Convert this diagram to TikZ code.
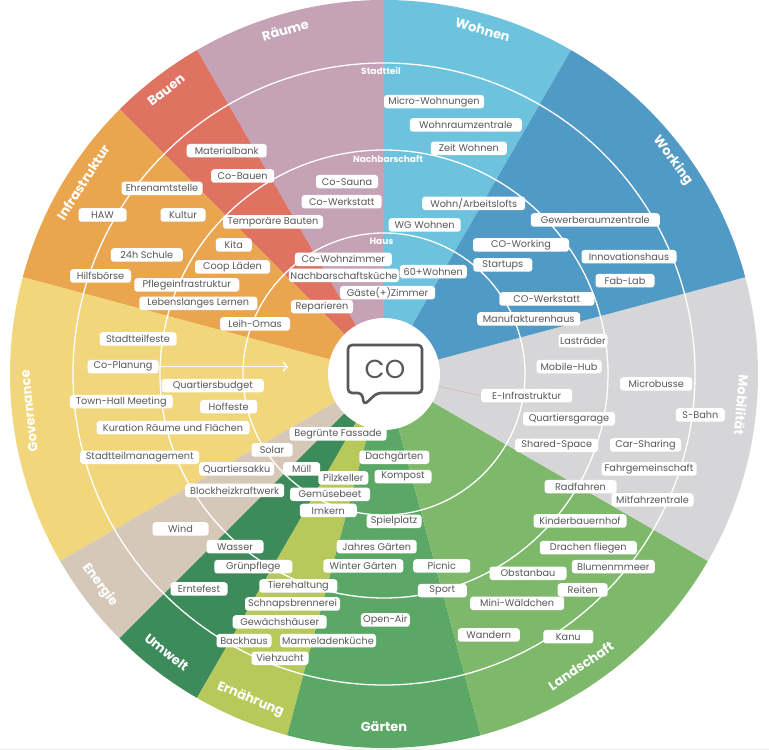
\documentclass[tikz,border=0pt]{standalone}
\usepackage{fontspec}
\setmainfont{Poppins}
\usetikzlibrary{arrows.meta}
\definecolor{cWohnen}{HTML}{6DC3DD}
\definecolor{cWorking}{HTML}{519AC5}
\definecolor{cMobil}{HTML}{D6D6D8}
\definecolor{cLand}{HTML}{7EB86A}
\definecolor{cGarten}{HTML}{5BA766}
\definecolor{cErnaehr}{HTML}{B7C95B}
\definecolor{cUmwelt}{HTML}{3D8A5A}
\definecolor{cEnergie}{HTML}{D5C8B8}
\definecolor{cGov}{HTML}{F1D67C}
\definecolor{cInfra}{HTML}{EAA64F}
\definecolor{cBauen}{HTML}{E07262}
\definecolor{cRaeume}{HTML}{C5A2B6}
\definecolor{labgray}{HTML}{585858}
\definecolor{faintline}{HTML}{D9B3BC}
\definecolor{edgegray}{HTML}{EDEDED}
\newcommand\sectorfill[3]{\fill[#1] (0,0) -- ({#2}:374) arc[start angle={#2},end angle={#3},radius=374] -- cycle;}
\tikzset{
  lab/.style={fill=white, rounded corners=3pt, inner xsep=1.5pt, inner ysep=0pt,
    minimum height=13.5pt, text=labgray, font=\fontsize{9.7}{9.7}\selectfont},
  ring/.style={draw=white, line width=1.3pt},
  cat/.style={text=white, inner sep=0pt, font=\fontsize{13}{13}\selectfont\bfseries},
  ringtext/.style={text=white, inner sep=0pt, font=\fontsize{9}{9}\selectfont\bfseries},
}
\begin{document}
\begin{tikzpicture}[x=1pt,y=1pt]
\useasboundingbox (0,0) rectangle (769,750);
\draw[edgegray, line width=0.8pt] (0,1) -- (769,1);
\begin{scope}[shift={(384,376)}]
  \sectorfill{cWohnen}{60}{90}
  \sectorfill{cRaeume}{90}{120}
  \sectorfill{cBauen}{120}{135}
  \sectorfill{cInfra}{135}{165}
  \sectorfill{cGov}{165}{210}
  \sectorfill{cEnergie}{210}{225}
  \sectorfill{cUmwelt}{225}{240}
  \sectorfill{cErnaehr}{240}{255}
  \sectorfill{cGarten}{255}{285}
  \sectorfill{cLand}{285}{330}
  \sectorfill{cMobil}{330}{375}
  \sectorfill{cWorking}{15}{60}
  \draw[ring] (0,0) circle[radius=311];
  \draw[ring] (0,0) circle[radius=224];
  \draw[ring] (0,0) circle[radius=141];
  \node[circle, fill=white, minimum size=112pt, inner sep=0pt] (hub) at (0,0) {};
  % category titles
  \node[cat, rotate=-16] (tWohnen) at (74:358) {Wohnen};
  \node[cat, rotate=16] (tRaeume) at (106:358) {Räume};
  \node[cat, rotate=37.5] (tBauen) at (127.5:358) {Bauen};
  \node[cat, rotate=57.5] (tInfra) at (147.5:357) {Infrastruktur};
  \node[cat, rotate=96] (tGov) at (186:357) {Governance};
  \node[cat, rotate=-95] (tMobil) at (355:359) {Mobilität};
  \node[cat, rotate=-53.5] (tWorking) at (36.5:359) {Working};
  \node[cat, rotate=-53.4] (tEnergie) at (216.6:354) {Energie};
  \node[cat, rotate=-38] (tUmwelt) at (232:353) {Umwelt};
  \node[cat, rotate=-22.3] (tErnaehr) at (247.7:352) {Ernährung};
  \node[cat] (tGaerten) at (270:353) {Gärten};
  \node[cat, rotate=34] (tLand) at (304:352) {Landschaft};
\end{scope}
\begin{scope}[yshift=750pt, y=-1pt]
  \node[ringtext] (rStadtteil) at (381,71) {Stadtteil};
  \node[ringtext] (rNachbar) at (388,159) {Nachbarschaft};
  \node[ringtext] (rHaus) at (381.5,241) {Haus};
  \node[lab,minimum width=80] (materialbank) at (226.7,150.7) {Materialbank};
  \node[lab,minimum width=63] (cobauen) at (242.7,176) {Co-Bauen};
  \node[lab,minimum width=81] (ehrenamt) at (162,188.3) {Ehrenamtstelle};
  \node[lab,minimum width=48] (haw) at (102.5,215) {HAW};
  \node[lab,minimum width=45] (kultur) at (183,215) {Kultur};
  \node[lab,minimum width=100] (tempbauten) at (273,222) {Temporäre Bauten};
  \node[lab,minimum width=62] (cosauna) at (347,181.7) {Co-Sauna};
  \node[lab,minimum width=80] (cowerkstatt) at (341.7,201.7) {Co-Werkstatt};
  \node[lab,minimum width=36] (kita) at (233.8,245) {Kita};
  \node[lab,minimum width=72] (schule) at (146.8,255) {24h Schule};
  \node[lab,minimum width=75] (coop) at (232.5,267) {Coop Läden};
  \node[lab,minimum width=61] (hilfsboerse) at (100.5,276) {Hilfsbörse};
  \node[lab,minimum width=105] (pflege) at (186.8,285) {Pflegeinfrastruktur};
  \node[lab,minimum width=118] (lernen) at (198.3,303.3) {Lebenslanges Lernen};
  \node[lab,minimum width=97] (cowohnzimmer) at (343.3,259.3) {Co-Wohnzimmer};
  \node[lab,minimum width=109] (nbkueche) at (344,275.5) {Nachbarschaftsküche};
  \node[lab,minimum width=95] (gaeste) at (387.5,292.7) {Gäste(+)Zimmer};
  \node[lab,minimum width=67] (sechzig) at (433.3,271.7) {60+Wohnen};
  \node[lab,minimum width=62] (reparieren) at (322,306.7) {Reparieren};
  \node[lab,minimum width=70] (leihomas) at (255,324) {Leih-Omas};
  \node[lab,minimum width=77] (feste) at (138,339) {Stadtteilfeste};
  \node[lab,minimum width=71] (coplanung) at (123,366.7) {Co-Planung};
  \node[lab,minimum width=102] (budget) at (212.8,385.7) {Quartiersbudget};
  \node[lab,minimum width=103] (townhall) at (121.3,401.7) {Town-Hall Meeting};
  \node[lab,minimum width=57] (hoffeste) at (228.7,406.7) {Hoffeste};
  \node[lab,minimum width=153] (kuration) at (173,427.7) {Kuration Räume und Flächen};
  \node[lab,minimum width=97] (fassade) at (338,434) {Begrünte Fassade};
  \node[lab,minimum width=41] (solar) at (272,450) {Solar};
  \node[lab,minimum width=119] (management) at (139.7,457.3) {Stadtteilmanagement};
  \node[lab,minimum width=75] (akku) at (236.7,469) {Quartiersakku};
  \node[lab,minimum width=37] (muell) at (301.7,469) {Müll};
  \node[lab,minimum width=70] (dachgaerten) at (394.3,457.3) {Dachgärten};
  \node[lab,minimum width=50] (pilz) at (343.3,478) {Pilzkeller};
  \node[lab,minimum width=57] (kompost) at (403,476.7) {Kompost};
  \node[lab,minimum width=99] (bhkw) at (234.7,490.5) {Blockheizkraftwerk};
  \node[lab,minimum width=80] (gemuese) at (330,494.3) {Gemüsebeet};
  \node[lab,minimum width=57] (imkern) at (328.3,510.5) {Imkern};
  \node[lab,minimum width=55] (spielplatz) at (394,521.3) {Spielplatz};
  \node[lab,minimum width=56] (wind) at (180.5,529) {Wind};
  \node[lab,minimum width=57] (wasser) at (235,546.7) {Wasser};
  \node[lab,minimum width=80] (jahres) at (376.7,546.7) {Jahres Gärten};
  \node[lab,minimum width=78] (gruen) at (253.3,566.7) {Grünpflege};
  \node[lab,minimum width=80] (winter) at (363.3,566) {Winter Gärten};
  \node[lab,minimum width=57] (picnic) at (441.7,566) {Picnic};
  \node[lab,minimum width=57] (erntefest) at (199,589) {Erntefest};
  \node[lab,minimum width=78] (tiere) at (298.3,586) {Tierehaltung};
  \node[lab,minimum width=49] (sport) at (442.3,590.7) {Sport};
  \node[lab,minimum width=95] (schnaps) at (292.5,604) {Schnapsbrennerei};
  \node[lab,minimum width=94] (gewaechs) at (279.7,622) {Gewächshäuser};
  \node[lab,minimum width=49] (openair) at (385.3,620) {Open-Air};
  \node[lab,minimum width=55] (backhaus) at (244,640.7) {Backhaus};
  \node[lab,minimum width=96] (marmelade) at (328,640.7) {Marmeladenküche};
  \node[lab,minimum width=57] (vieh) at (280,658.3) {Viehzucht};
  \node[lab,minimum width=100] (micro) at (434,101.7) {Micro-Wohnungen};
  \node[lab,minimum width=112] (wohnraum) at (465.8,125) {Wohnraumzentrale};
  \node[lab,minimum width=76] (zeit) at (468.8,148.3) {Zeit Wohnen};
  \node[lab,minimum width=103] (lofts) at (473.7,203.3) {Wohn/Arbeitslofts};
  \node[lab,minimum width=129] (gewerbe) at (595.3,220) {Gewerberaumzentrale};
  \node[lab,minimum width=72] (wg) at (424.7,225) {WG Wohnen};
  \node[lab,minimum width=96] (coworking) at (521,245) {CO-Working};
  \node[lab,minimum width=95] (innovation) at (629,256.7) {Innovationshaus};
  \node[lab,minimum width=59] (startups) at (502.8,265) {Startups};
  \node[lab,minimum width=59] (fablab) at (625,280.7) {Fab-Lab};
  \node[lab,minimum width=95] (cowerk2) at (546.8,299) {CO-Werkstatt};
  \node[lab,minimum width=103] (manufaktur) at (528.7,319) {Manufakturenhaus};
  \node[lab,minimum width=49] (lastraeder) at (583,340.7) {Lasträder};
  \node[lab,minimum width=65] (mobilehub) at (569,366.7) {Mobile-Hub};
  \node[lab,minimum width=72] (microbusse) at (656.2,384) {Microbusse};
  \node[lab,minimum width=91] (einfra) at (526.7,395.7) {E-Infrastruktur};
  \node[lab,minimum width=49] (sbahn) at (700.3,415) {S-Bahn};
  \node[lab,minimum width=92] (garage) at (569,418.8) {Quartiersgarage};
  \node[lab,minimum width=83] (shared) at (556.7,445.3) {Shared-Space};
  \node[lab,minimum width=71] (carsharing) at (645.5,445) {Car-Sharing};
  \node[lab,minimum width=95] (fahrgem) at (649,469) {Fahrgemeinschaft};
  \node[lab,minimum width=72] (radfahren) at (580.5,486.7) {Radfahren};
  \node[lab,minimum width=82] (mitfahr) at (652.5,500) {Mitfahrzentrale};
  \node[lab,minimum width=93] (kinderbh) at (580,521) {Kinderbauernhof};
  \node[lab,minimum width=97] (drachen) at (588.3,547.7) {Drachen fliegen};
  \node[lab,minimum width=83] (blumen) at (613.3,566.7) {Blumenmmeer};
  \node[lab,minimum width=77] (obstanbau) at (528,573.3) {Obstanbau};
  \node[lab,minimum width=50] (reiten) at (582.7,590) {Reiten};
  \node[lab,minimum width=94] (miniwald) at (517.2,603.3) {Mini-Wäldchen};
  \node[lab,minimum width=62] (wandern) at (488.8,635) {Wandern};
  \node[lab,minimum width=50] (kanu) at (568.3,636.7) {Kanu};
  % arrow and faint line
  \coordinate (arrowtip) at (288,366.7);
  \draw[white, line width=1.3pt, -{Straight Barb[length=4pt,width=9pt]}] (coplanung.east) -- (arrowtip);
  \draw[faintline, line width=0.6pt] (hub) -- (einfra.west);
  % speech bubble
  \draw[labgray, line width=2.6pt, rounded corners=4pt, line join=round]
    (362,393) -- (348,393) -- (348,345) -- (422,345) -- (422,393) -- (377,393) -- (364,405) -- cycle;
  \node[text=labgray, font=\fontsize{26}{26}\selectfont, inner sep=0pt] (co) at (385,369) {CO};
\end{scope}
\end{tikzpicture}
\end{document}
